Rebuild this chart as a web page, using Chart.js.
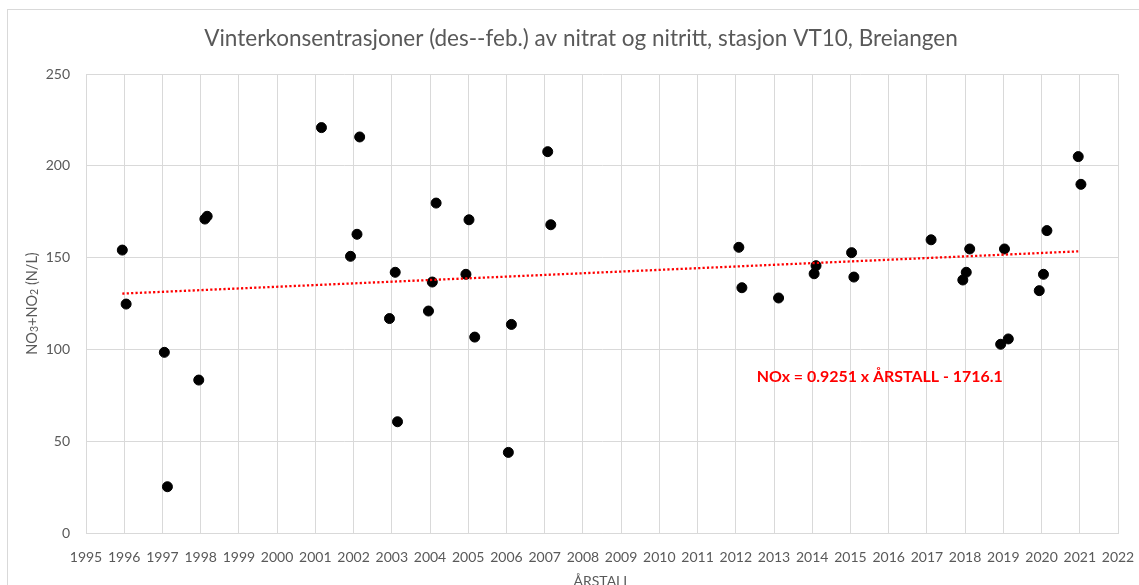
<!DOCTYPE html>
<html><head><meta charset="utf-8">
<script src="https://cdn.jsdelivr.net/npm/chart.js@4/dist/chart.umd.min.js"></script>
<style>html,body{margin:0;padding:0;background:#fff;overflow:hidden}#wrap{width:1139px;height:585px;position:relative}</style>
</head><body><div id="wrap"><canvas id="c" width="1139" height="585"></canvas></div>
<script>
// ---- data ----
const years = [1995.95, 1996.05, 1997.05, 1997.13, 1997.95, 1998.11, 1998.17,
  2001.16, 2001.92, 2002.09, 2002.16, 2002.94,
  2003.09, 2003.15, 2003.96, 2004.06, 2004.16,
  2004.94, 2005.02, 2005.17, 2006.05, 2006.13,
  2007.08, 2007.16,
  2012.08, 2012.16, 2013.12, 2014.05, 2014.10,
  2015.03, 2015.09, 2017.11, 2017.94, 2018.03,
  2018.12, 2018.93, 2019.03, 2019.13, 2019.94,
  2020.05, 2020.14, 2020.96, 2021.03];
const noxValues = [154.1, 124.7, 98.4, 25.2, 83.3, 171.0, 172.5,
  220.8, 150.7, 162.7, 215.7, 116.8,
  142.0, 60.6, 120.9, 136.7, 179.7,
  140.9, 170.6, 106.7, 43.9, 113.6,
  207.7, 167.9,
  155.6, 133.6, 128.0, 141.2, 145.6,
  152.7, 139.4, 159.7, 137.8, 142.0,
  154.7, 102.8, 154.7, 105.7, 132.0,
  140.9, 164.7, 205.0, 189.9];
const trendYears = [1995.95, 2020.96];
const trendValues = [130.4, 153.4];
const xTickValues = [1995, 1996, 1997, 1998, 1999, 2000, 2001, 2002, 2003, 2004, 2005, 2006, 2007, 2008,
  2009, 2010, 2011, 2012, 2013, 2014, 2015, 2016, 2017, 2018, 2019, 2020, 2021, 2022];
const yTickValues = [0, 50, 100, 150, 200, 250];
const titleText = "Vinterkonsentrasjoner (des--feb.) av nitrat og nitritt, stasjon VT10, Breiangen";
const xTitleText = "ÅRSTALL";
const yTitleParts = [["NO", false], ["3", true], ["+NO", false], ["2", true], [" (N/L)", false]];
const equationText = "NOx = 0.9251 x ÅRSTALL - 1716.1";
const equationAnchor = [2012.55, 85.1];

// ---- chart ----
const FONT = "Lato";
const GRAY = "#595959";
const GRID = "#d9d9d9";

function fitFont(ctx, text, weight, target) {
  ctx.font = weight + " 20px " + FONT;
  const w = ctx.measureText(text).width;
  return 20 * target / w;
}

const deco = {
  id: "deco",
  beforeDraw(chart) {
    const ctx = chart.ctx;
    ctx.save();
    ctx.fillStyle = "#fff";
    ctx.fillRect(0, 0, chart.width, chart.height);
    ctx.strokeStyle = GRID;
    ctx.lineWidth = 1;
    ctx.strokeRect(7.5, 9.5, 1400, 1000);
    ctx.restore();
  },
  afterDraw(chart) {
    const ctx = chart.ctx;
    const xs = chart.scales.x, ys = chart.scales.y;
    ctx.save();
    // title
    let s = fitFont(ctx, titleText, "400", 754);
    ctx.font = "400 " + s + "px " + FONT;
    ctx.fillStyle = GRAY;
    ctx.textAlign = "center";
    ctx.textBaseline = "middle";
    ctx.fillText(titleText, 581, 39);
    // x title
    s = fitFont(ctx, xTitleText, "400", 57);
    ctx.font = "400 " + s + "px " + FONT;
    ctx.textBaseline = "alphabetic";
    ctx.fillText(xTitleText, 602, 586);
    // y title (rotated, with subscripts)
    const big = 14.5, small = 10.5;
    let total = 0;
    for (const [t, sub] of yTitleParts) {
      ctx.font = "400 " + (sub ? small : big) + "px " + FONT;
      total += ctx.measureText(t).width;
    }
    ctx.translate(32, 303.5);
    ctx.rotate(-Math.PI / 2);
    ctx.textAlign = "left";
    ctx.textBaseline = "middle";
    let px = -total / 2;
    for (const [t, sub] of yTitleParts) {
      ctx.font = "400 " + (sub ? small : big) + "px " + FONT;
      ctx.fillText(t, px, sub ? 3 : 0);
      px += ctx.measureText(t).width;
    }
    ctx.setTransform(1, 0, 0, 1, 0, 0);
    // equation
    s = fitFont(ctx, equationText, "700", 246);
    ctx.font = "700 " + s + "px " + FONT;
    ctx.fillStyle = "#ff0000";
    ctx.textAlign = "left";
    ctx.textBaseline = "middle";
    ctx.fillText(equationText, xs.getPixelForValue(equationAnchor[0]), ys.getPixelForValue(equationAnchor[1]));
    ctx.restore();
  }
};

new Chart(document.getElementById("c"), {
  type: "scatter",
  data: {
    datasets: [
      {
        type: "line",
        label: "Trend",
        data: trendYears.map((x, i) => ({ x, y: trendValues[i] })),
        borderColor: "#ff0000",
        borderWidth: 2.3,
        borderDash: [2.2, 2.2],
        pointRadius: 0,
        fill: false,
        order: 0
      },
      {
        label: "NO3+NO2",
        data: years.map((x, i) => ({ x, y: noxValues[i] })),
        backgroundColor: "#000",
        borderColor: "#000",
        borderWidth: 1,
        pointRadius: 5,
        pointHoverRadius: 5,
        order: 1
      }
    ]
  },
  options: {
    responsive: false,
    animation: false,
    devicePixelRatio: 1,
    layout: { padding: { left: 26, top: 74, right: 21, bottom: 0 } },
    plugins: { legend: { display: false }, tooltip: { enabled: false }, title: { display: false } },
    scales: {
      x: {
        type: "linear", min: 1995, max: 2022,
        afterBuildTicks: sc => { sc.ticks = xTickValues.map(v => ({ value: v })); },
        afterFit: sc => { sc.height = 52; sc.paddingLeft = 0; sc.paddingRight = 0; },
        grid: { color: GRID, lineWidth: 1, drawTicks: false },
        border: { color: GRID, width: 1 },
        ticks: { color: GRAY, font: { family: FONT, size: 14 }, padding: 16, autoSkip: false, maxRotation: 0,
                 callback: v => String(v) }
      },
      y: {
        min: 0, max: 250,
        afterBuildTicks: sc => { sc.ticks = yTickValues.map(v => ({ value: v })); },
        afterFit: sc => { sc.width = 60; sc.paddingTop = 0; sc.paddingBottom = 0; },
        grid: { color: GRID, lineWidth: 1, drawTicks: false },
        border: { color: GRID, width: 1 },
        ticks: { color: GRAY, font: { family: FONT, size: 14 }, padding: 16, callback: v => String(v) }
      }
    }
  },
  plugins: [deco]
});
</script>
</body></html>
